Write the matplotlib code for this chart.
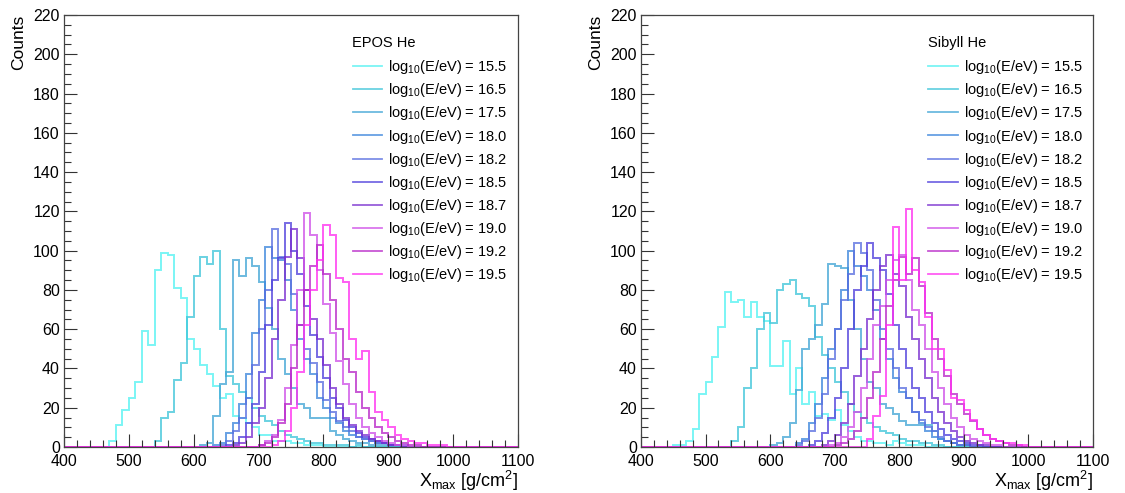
import numpy as np
import matplotlib
matplotlib.use("Agg")
import matplotlib.pyplot as plt

plt.rcParams['font.family'] = ['Liberation Sans', 'DejaVu Sans']
plt.rcParams['mathtext.fontset'] = 'custom'
plt.rcParams['mathtext.rm'] = 'Liberation Sans'
plt.rcParams['mathtext.it'] = 'Liberation Sans'

# binning: 10 g/cm2 from 400 to 1100
edges = np.arange(400, 1101, 10)

energies = ["15.5", "16.5", "17.5", "18.0", "18.2", "18.5", "18.7", "19.0", "19.2", "19.5"]
colors = ['#55f2f2', '#40c6da', '#43a6d6', '#3c86dc', '#5a6fe0',
          '#5040dc', '#7a30d0', '#cf50e8', '#b828c8', '#ff30f0']

# EPOS He : first bin (low edge) of each series, then counts per bin
epos_start = [470, 540, 610, 630, 640, 650, 660, 700, 700, 720]
epos_155 = [3, 11, 19, 25, 33, 59, 52, 90, 99, 98, 81, 76, 55, 50, 42, 37, 31, 25, 27, 16,
            15, 12, 10, 6, 6, 3, 3, 3, 2, 2, 1, 1, 1]
epos_165 = [3, 15, 18, 34, 43, 66, 87, 97, 93, 100, 60, 36, 32, 28, 25, 20, 16, 13, 11, 8,
            6, 5, 4, 3, 2, 2, 1, 1, 1, 1, 0, 1]
epos_175 = [1, 2, 16, 32, 38, 95, 87, 96, 92, 84, 71, 60, 45, 37, 30, 22, 20, 15, 15, 15,
            8, 6, 4, 3, 2, 2, 1, 1, 1]
epos_180 = [1, 2, 7, 12, 22, 37, 58, 75, 102, 96, 95, 85, 70, 55, 45, 37, 25, 20, 15, 12,
            8, 6, 5, 4, 3, 2, 2, 1, 1, 1]
epos_182 = [1, 3, 8, 15, 25, 42, 60, 80, 111, 97, 93, 78, 62, 50, 43, 33, 24, 18, 13, 10,
            8, 5, 4, 3, 2, 2, 1, 1]
epos_185 = [1, 2, 5, 12, 22, 38, 62, 85, 96, 114, 100, 88, 72, 57, 46, 35, 25, 20, 14, 10,
            7, 5, 4, 3, 2, 1, 1]
epos_187 = [1, 2, 5, 12, 20, 35, 55, 75, 97, 111, 96, 80, 65, 55, 42, 30, 22, 15, 11, 8,
            6, 4, 3, 2, 1, 1]
epos_190 = [1, 3, 6, 14, 30, 52, 80, 119, 108, 90, 73, 58, 44, 32, 22, 15, 10, 7, 5, 3,
            2, 1, 1]
epos_192 = [1, 2, 5, 12, 22, 40, 62, 80, 92, 103, 88, 75, 60, 45, 38, 28, 20, 15, 10, 7,
            5, 3, 2, 1, 1]
epos_195 = [1, 3, 8, 20, 38, 62, 80, 95, 113, 108, 86, 84, 55, 45, 49, 28, 18, 14, 10, 6,
            4, 3, 2, 2, 1, 1, 1]

# Sibyll He
sib_start = [450, 540, 600, 640, 640, 660, 680, 690, 700, 750]
sib_155 = [1, 1, 3, 9, 27, 33, 46, 61, 79, 74, 75, 66, 74, 66, 64, 41, 41, 54, 27, 40,
           22, 28, 16, 17, 14, 19, 11, 8, 5, 3, 3, 2, 2, 1, 3, 2, 1, 1, 1]
sib_165 = [3, 10, 30, 40, 60, 68, 63, 80, 83, 85, 78, 76, 72, 56, 47, 40, 33, 28, 22, 18,
           15, 12, 10, 8, 7, 6, 4, 3, 3, 2, 2, 1, 1]
sib_175 = [1, 2, 5, 12, 29, 50, 55, 62, 73, 93, 92, 91, 75, 60, 45, 33, 30, 22, 20, 17,
           13, 11, 11, 11, 11, 8, 4, 3, 2, 1, 1]
sib_180 = [2, 4, 12, 22, 35, 50, 60, 80, 100, 92, 87, 80, 70, 55, 45, 35, 28, 25, 18, 12,
           8, 5, 4, 3, 2, 1, 1]
sib_182 = [1, 3, 8, 15, 27, 45, 60, 75, 88, 104, 99, 90, 75, 60, 50, 40, 30, 25, 18, 14,
           10, 8, 5, 3, 2, 1, 1]
sib_185 = [1, 3, 7, 15, 25, 40, 60, 80, 92, 104, 96, 90, 78, 62, 50, 40, 30, 25, 18, 12,
           9, 6, 4, 3, 2, 1, 1]
sib_187 = [1, 3, 6, 12, 22, 36, 50, 65, 80, 92, 98, 88, 82, 66, 55, 45, 35, 25, 18, 12,
           8, 5, 3, 2, 1, 1]
sib_190 = [1, 2, 5, 10, 18, 30, 45, 62, 72, 85, 95, 98, 85, 70, 62, 50, 38, 30, 22, 15,
           10, 6, 4, 3, 2, 1, 1]
sib_192 = [1, 2, 4, 8, 15, 25, 38, 55, 72, 85, 97, 88, 96, 82, 68, 55, 45, 36, 27, 22,
           17, 13, 9, 6, 4, 3, 2, 1, 1]
sib_195 = [4, 16, 26, 62, 112, 85, 121, 90, 84, 66, 50, 50, 39, 25, 24, 19, 14, 9, 6, 4,
           3, 2, 2, 1, 1]

epos_series = [epos_155, epos_165, epos_175, epos_180, epos_182,
               epos_185, epos_187, epos_190, epos_192, epos_195]
sib_series = [sib_155, sib_165, sib_175, sib_180, sib_182,
              sib_185, sib_187, sib_190, sib_192, sib_195]


def full_hist(start, counts):
    h = np.zeros(len(edges) - 1)
    i0 = (start - 400) // 10
    h[i0:i0 + len(counts)] = counts
    return h


def draw_panel(ax, starts, series, title):
    for e, c, s, vals in zip(energies, colors, starts, series):
        ax.stairs(full_hist(s, vals), edges, color=c, lw=1.4, alpha=0.78,
                  label=r"log$_{10}$(E/eV) = " + e, clip_on=False)
    ax.set_xlim(400, 1100)
    ax.set_ylim(0, 220)
    ax.set_xticks(np.arange(400, 1101, 100))
    ax.set_xticks(np.arange(400, 1101, 20), minor=True)
    ax.set_yticks(np.arange(0, 221, 20))
    ax.set_yticks(np.arange(0, 221, 5), minor=True)
    ax.tick_params(which='both', direction='in', top=False, right=False,
                   labelsize=11.5, width=0.8, color='#333333')
    ax.tick_params(which='major', length=9.5)
    ax.tick_params(which='minor', length=5)
    ax.tick_params(axis='y', pad=3)
    ax.tick_params(axis='x', pad=5)
    for sp in ax.spines.values():
        sp.set_linewidth(0.9)
        sp.set_color('#444444')
    ax.set_ylabel("Counts", loc='top', fontsize=12.5, labelpad=5)
    ax.set_xlabel(r"X$_{\mathrm{max}}$ [g/cm$^{2}$]", loc='right', fontsize=13, labelpad=0)
    # legend title as plain text, entries below it
    ax.text(0.634, 0.935, title, transform=ax.transAxes, fontsize=10.5,
            ha='left', va='center')
    leg = ax.legend(loc='upper left', bbox_to_anchor=(0.636, 0.9), frameon=False,
                    fontsize=10.5, handlelength=2.0, handletextpad=0.45,
                    labelspacing=0.35, borderaxespad=0, borderpad=0)
    for ln in leg.get_lines():
        ln.set_linewidth(1.3)


fig = plt.figure(figsize=(11.25, 4.93), dpi=100)
ax1 = fig.add_axes([64 / 1125, 46 / 493, 454 / 1125, 432 / 493])
ax2 = fig.add_axes([641 / 1125, 46 / 493, 452 / 1125, 432 / 493])

draw_panel(ax1, epos_start, epos_series, "EPOS He")
draw_panel(ax2, sib_start, sib_series, "Sibyll He")

fig.savefig("out.png", dpi=100)
